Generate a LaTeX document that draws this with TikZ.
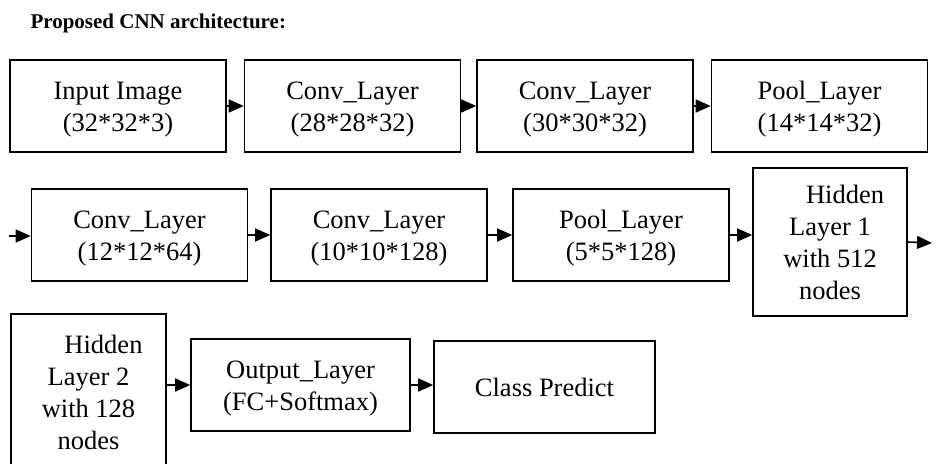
\documentclass[tikz,border=0pt]{standalone}
\usepackage{fontspec}
\setmainfont{Liberation Serif}
\usetikzlibrary{arrows.meta}
\newcommand\mytopstrut{\rule{0pt}{24pt}}
\begin{document}
\begin{tikzpicture}[x=1pt,y=-1pt,
  box/.style={draw, line width=1.6pt, align=center, inner sep=0pt,
    font=\fontsize{26.5}{32}\selectfont},
  wide/.style={box, minimum width=216pt, minimum height=92pt},
  arr/.style={-{Triangle[length=15pt,width=13pt]}, line width=1.6pt}]
\path[use as bounding box, clip] (0,0) rectangle (936,463);
\node[anchor=base west, font=\fontsize{21}{25}\selectfont\bfseries] (title) at (27,28) {Proposed CNN architecture:};
% row 1
\node[wide] (b1) at (118,106) {\mytopstrut Input Image\\(32*32*3)};
\node[wide] (b2) at (352.5,106) {\mytopstrut Conv\_Layer\\(28*28*32)};
\node[wide] (b3) at (585,106) {\mytopstrut Conv\_Layer\\(30*30*32)};
\node[wide] (b4) at (819.5,106) {\mytopstrut Pool\_Layer\\(14*14*32)};
% row 2
\node[wide] (b5) at (139.5,235) {\mytopstrut Conv\_Layer\\(12*12*64)};
\node[wide] (b6) at (379,235) {\mytopstrut Conv\_Layer\\(10*10*128)};
\node[wide] (b7) at (621,235) {\mytopstrut Pool\_Layer\\(5*5*128)};
\node[box, minimum width=154pt, minimum height=148pt] (b8) at (830,242) {\hspace*{30pt}Hidden\\Layer 1\\with 512\\nodes};
% row 3
\node[box, minimum width=155pt, minimum height=156pt] (b9) at (88.5,392) {\hspace*{30pt}Hidden\\Layer 2\\with 128\\nodes};
\node[box, minimum width=219pt, minimum height=92pt] (b10) at (300.5,385) {\mytopstrut Output\_Layer\\(FC+Softmax)};
\node[box, minimum width=221pt, minimum height=92pt] (b11) at (544.5,387) {Class Predict};
% connectors
\coordinate (in5) at (9,236);
\coordinate (out8) at (932,243);
\draw[arr] (b1.east) -- (b1.east -| b2.west);
\draw[arr] (b2.east) -- (b2.east -| b3.west);
\draw[arr] (b3.east) -- (b3.east -| b4.west);
\draw[arr] (in5) -- (in5 -| b5.west);
\draw[arr] (b5.east) -- (b5.east -| b6.west);
\draw[arr] (b6.east) -- (b6.east -| b7.west);
\draw[arr] (b7.east) -- (b7.east -| b8.west);
\draw[arr] (b8.east) -- (out8);
\draw[arr] (b9.east |- b10.west) -- (b10.west);
\draw[arr] (b10.east) -- (b10.east -| b11.west);
\end{tikzpicture}
\end{document}
